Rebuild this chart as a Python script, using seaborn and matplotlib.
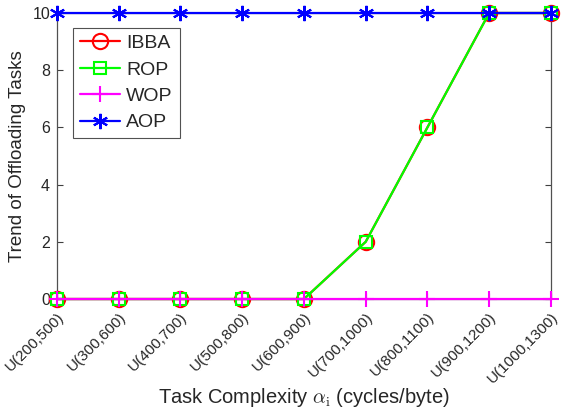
import matplotlib
matplotlib.use("Agg")
import matplotlib.pyplot as plt
import seaborn as sns
import pandas as pd

categories = ["U(200,500)", "U(300,600)", "U(400,700)", "U(500,800)", "U(600,900)",
              "U(700,1000)", "U(800,1100)", "U(900,1200)", "U(1000,1300)"]
ibba = [0, 0, 0, 0, 0, 2, 6, 10, 10]
rop = [0, 0, 0, 0, 0, 2, 6, 10, 10]
wop = [0, 0, 0, 0, 0, 0, 0, 0, 0]
aop = [10, 10, 10, 10, 10, 10, 10, 10, 10]

sns.set_theme(style="white")
plt.rcParams['font.family'] = ['Liberation Sans', 'DejaVu Sans']
plt.rcParams['mathtext.fontset'] = 'cm'

fig = plt.figure(figsize=(5.61, 4.15), dpi=100)
ax = fig.add_axes([0.1016, 0.2795, 0.8804, 0.6892])

x = list(range(len(categories)))
series = [
    ("IBBA", ibba, "#ff0000", "o", 11, "none"),
    ("ROP", rop, "#00ff00", "s", 8, "none"),
    ("WOP", wop, "#ff00ff", "+", 12, None),
    ("AOP", aop, "#0000ff", (6, 2, 0), 11, None),
]
for name, vals, col, mk, ms, mfc in series:
    df = pd.DataFrame({"x": x, "y": vals})
    kw = dict(marker=mk, markersize=ms, markeredgewidth=1.5, markeredgecolor=col)
    if mfc is not None:
        kw["markerfacecolor"] = mfc
    sns.lineplot(data=df, x="x", y="y", ax=ax, color=col, linewidth=1.6,
                 label=name, clip_on=False, zorder=3, **kw)

ax.set_xlim(0, 8)
ax.set_ylim(0, 10)
ax.set_yticks([0, 2, 4, 6, 8, 10])
ax.set_xticks(x)
ax.set_xticklabels(categories, rotation=45, ha="right", va="top",
                   rotation_mode="anchor", fontsize=11, color="#262626")
ax.tick_params(axis="y", labelsize=11.5, labelcolor="#262626", pad=5)
ax.tick_params(axis="x", pad=8)
ax.tick_params(direction="in", length=4, width=0.8, color="#404040",
               right=True, top=True, left=True, bottom=True)
for s in ax.spines.values():
    s.set_color("#505050")
    s.set_linewidth(0.9)

ax.set_ylabel("Trend of Offloading Tasks", fontsize=13.5, color="#262626")
ax.yaxis.set_label_coords(-0.062, 0.5)
ax.set_xlabel(r"Task Complexity $\alpha_{\rm i}$ (cycles/byte)", fontsize=14.5,
              color="#262626")
ax.xaxis.set_label_coords(0.5, -0.305)

leg = ax.legend(loc="upper left", bbox_to_anchor=(0.032, 0.948), fontsize=14,
                frameon=True, fancybox=False, edgecolor="#262626",
                handlelength=2.1, handletextpad=0.3, borderpad=0.35,
                labelspacing=0.45, borderaxespad=0)
leg.get_frame().set_linewidth(0.8)

fig.savefig("out.png", dpi=100)
